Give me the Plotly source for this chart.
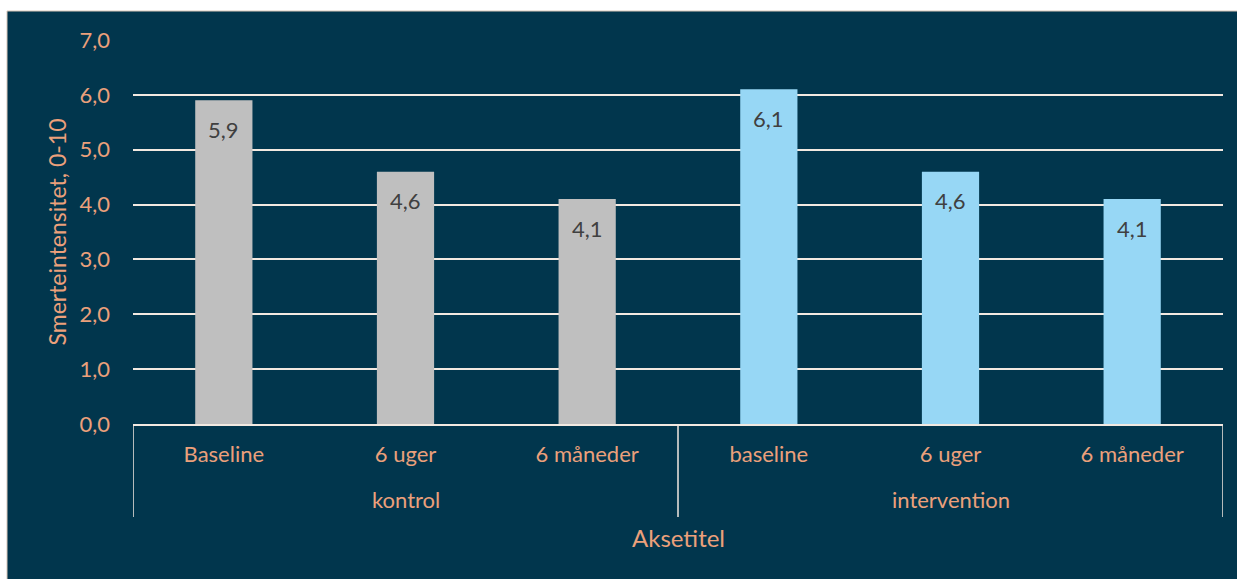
import plotly.graph_objects as go

# Pain intensity (0-10) by measurement time, control vs intervention group
groups = ["kontrol", "intervention"]
timepoints = ["Baseline", "6 uger", "6 måneder", "baseline", "6 uger", "6 måneder"]
values = [5.9, 4.6, 4.1, 6.1, 4.6, 4.1]
bar_group = [0, 0, 0, 1, 1, 1]
y_ticks = [0, 1, 2, 3, 4, 5, 6, 7]
y_title = "Smerteintensitet, 0-10"
x_title = "Aksetitel"

NAVY = "#01364D"
SALMON = "#EBA07B"
GRID = "#F2E9E1"
BAR_COLORS = ["#BFBFBF", "#97D7F5"]
FONT = "Lato, Carlito, Calibri, sans-serif"

W, H = 1237, 579
L, R, T, B = 133, 14, 40, 155
plot_w = W - L - R
plot_h = H - T - B

xs = list(range(len(values)))

fig = go.Figure()
fig.add_trace(go.Bar(
    x=xs,
    y=values,
    width=0.315,
    marker=dict(color=[BAR_COLORS[g] for g in bar_group], line=dict(width=0)),
    hoverinfo="skip",
))

# value labels inside bars, just below each top
for x, v in zip(xs, values):
    fig.add_annotation(
        x=x, y=v, xref="x", yref="y", yanchor="middle",
        text=f"{v:.1f}".replace(".", ","),
        showarrow=False, yshift=-29,
        font=dict(family=FONT, size=22, color="#404040"),
    )

# group labels under the timepoint labels
n_per = len(values) // len(groups)
for gi, g in enumerate(groups):
    fig.add_annotation(
        x=gi * n_per + (n_per - 1) / 2, y=-(499 - 424) / plot_h,
        xref="x", yref="paper", yanchor="middle", text=g, showarrow=False,
        font=dict(family=FONT, size=22, color=SALMON),
    )

# x axis title
fig.add_annotation(
    x=0.5, y=-(537 - 424) / plot_h, xref="paper", yref="paper",
    xanchor="center", yanchor="middle",
    text=x_title, showarrow=False,
    font=dict(family=FONT, size=24, color=SALMON),
)

# group divider lines below the category axis
for xd in [-0.5, n_per - 0.5, len(values) - 0.5]:
    fig.add_shape(
        type="line", xref="x", yref="paper",
        x0=xd, x1=xd, y0=0, y1=-(517 - 424) / plot_h,
        line=dict(color=GRID, width=1.5),
    )

# navy chart area with a thin white strip on the top and left edges
fig.add_shape(
    type="rect", xref="paper", yref="paper", layer="below",
    x0=(7 - L) / plot_w, x1=1 + (R + 2) / plot_w,
    y0=-(B + 2) / plot_h, y1=1 + (T - 11) / plot_h,
    fillcolor=NAVY, line=dict(color="#D9C6B8", width=1),
)

fig.update_layout(
    width=W, height=H,
    margin=dict(l=L, r=R, t=T, b=B, pad=0),
    paper_bgcolor="white",
    plot_bgcolor=NAVY,
    separators=", ",
    showlegend=False,
    bargap=0.685,
    font=dict(family=FONT, color=SALMON, size=22),
    xaxis=dict(
        range=[-0.5, len(values) - 0.5],
        tickmode="array", tickvals=xs, ticktext=timepoints,
        ticks="", ticklabelstandoff=10,
        tickfont=dict(family=FONT, size=22, color=SALMON),
        showgrid=False, zeroline=False,
        showline=True, linecolor=GRID, linewidth=1.5,
        fixedrange=True,
    ),
    yaxis=dict(
        range=[0, 7], tickmode="array", tickvals=y_ticks,
        tickformat=".1f", ticks="", ticklabelstandoff=22,
        tickfont=dict(family=FONT, size=22, color=SALMON),
        showgrid=True, gridcolor=GRID, gridwidth=1.5,
        zeroline=False, showline=False,
        title=dict(text=y_title, standoff=6,
                   font=dict(family=FONT, size=23, color=SALMON)),
        fixedrange=True,
    ),
)

fig.write_html("out.html")
